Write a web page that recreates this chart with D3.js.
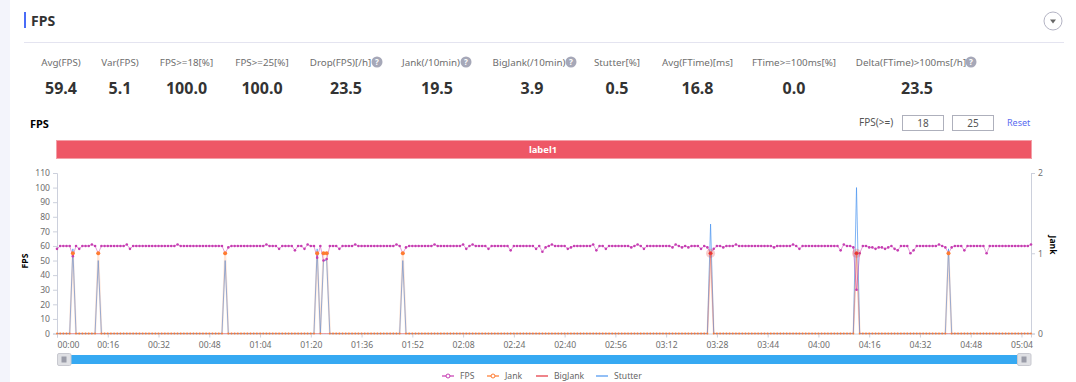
<!DOCTYPE html>
<html>
<head>
<meta charset="utf-8">
<script src="https://cdn.jsdelivr.net/npm/d3@7"></script>
<style>
  html, body { margin: 0; padding: 0; background: #fff; overflow: hidden; }
  svg { display: block; font-family: "Noto Sans", sans-serif; }
  .domain, .tick line { stroke: #ccd0dc; }
  .tick text { fill: #6e6e6e; font-size: 8.6px; font-family: "Noto Sans", sans-serif; }
</style>
</head>
<body>
<div id="chart"></div>
<script>
const kpiLabels = ["Avg(FPS)", "Var(FPS)", "FPS>=18[%]", "FPS>=25[%]", "Drop(FPS)[/h]", "Jank(/10min)", "BigJank(/10min)", "Stutter[%]", "Avg(FTime)[ms]", "FTime>=100ms[%]", "Delta(FTime)>100ms[/h]"];
const kpiValues = ["59.4", "5.1", "100.0", "100.0", "23.5", "19.5", "3.9", "0.5", "16.8", "0.0", "23.5"];
const kpiHasHelp = [false, false, false, false, true, true, true, false, false, false, true];

const tickLabels = ["00:00", "00:16", "00:32", "00:48", "01:04", "01:20", "01:36", "01:52", "02:08", "02:24", "02:40", "02:56", "03:12", "03:28", "03:44", "04:00", "04:16", "04:32", "04:48", "05:04"];
const fpsTicks = [0, 10, 20, 30, 40, 50, 60, 70, 80, 90, 100, 110];
const jankTicks = [0, 1, 2];

// one value per second
const fps = [
  58,60,60,60,60,53,60,58,60,60,
  60,61,60,55,60,60,60,60,60,60,
  60,60,61,58,60,60,60,60,60,60,
  60,60,60,60,60,60,60,60,61,60,
  60,60,60,60,60,60,60,60,60,60,
  60,60,60,55,59,60,60,60,60,60,
  60,60,60,60,60,60,61,60,60,60,
  58,60,60,60,60,57,60,60,58,61,
  60,60,52,60,50,51,60,60,60,58,
  60,60,60,60,61,60,60,60,60,60,
  60,60,60,60,60,60,60,61,60,55,
  59,60,60,60,60,60,60,60,60,61,
  60,60,60,60,60,60,60,60,61,58,
  60,61,60,60,60,60,58,60,60,60,
  60,60,60,57,60,60,60,60,60,60,
  60,58,60,56,59,60,61,60,60,60,
  60,58,59,60,60,60,60,60,60,61,
  57,60,60,58,60,60,60,60,60,60,
  60,59,60,61,60,58,60,60,60,60,
  60,60,60,60,59,61,60,59,60,59,
  60,60,60,58,60,59,55,58,60,60,
  59,60,60,60,61,60,60,60,60,60,
  60,60,60,60,60,60,59,60,60,60,
  60,60,61,60,58,60,60,60,60,60,
  60,60,60,60,60,60,60,57,61,60,
  60,59,30,55,60,60,59,59,58,59,
  59,58,59,60,58,57,60,60,60,55,
  57,60,60,60,60,60,60,60,61,60,
  59,55,59,60,60,60,57,60,60,60,
  60,60,60,55,60,60,60,60,60,60,
  60,60,60,60,60,60,60,61
];

// seconds where the other series leave zero
const jankSeconds = [5, 13, 53, 82, 84, 85, 109, 206, 252, 281];
const jankValues = [1, 1, 1, 1, 1, 1, 1, 1, 1, 1];
const bigJankSeconds = [206, 252];
const bigJankValues = [1, 1];
const stutterSeconds = [5, 13, 53, 82, 84, 85, 109, 206, 252, 281];
const stutterValues = [58, 50, 50, 58, 50, 50, 50, 75, 100, 58];

const legendNames = ["FPS", "Jank", "BigJank", "Stutter"];
const colors = { FPS: "#c63db2", Jank: "#ff7b30", BigJank: "#e5323c", Stutter: "#4a94f0" };

const width = 1076, height = 382;
const seconds = fps.map((d, i) => i);

function expand(keys, vals) {
  const m = new Map(keys.map((k, i) => [k, vals[i]]));
  return seconds.map(s => m.get(s) || 0);
}
const jank = expand(jankSeconds, jankValues);
const bigJank = expand(bigJankSeconds, bigJankValues);
const stutter = expand(stutterSeconds, stutterValues);

const svg = d3.select("#chart").append("svg")
  .attr("width", width)
  .attr("height", height);

// page background and card
svg.append("rect").attr("width", width).attr("height", height).attr("fill", "#fff");
svg.append("rect").attr("width", 10).attr("height", height).attr("fill", "#f3f4fb");

// title row
svg.append("rect").attr("x", 24).attr("y", 12).attr("width", 2).attr("height", 16).attr("fill", "#4a6cf7");
svg.append("text").attr("x", 31).attr("y", 25.5).attr("font-size", 14).attr("font-weight", 700).attr("fill", "#333").text("FPS");
svg.append("line").attr("x1", 24).attr("x2", 1064).attr("y1", 42.5).attr("y2", 42.5).attr("stroke", "#e4e4f0");
svg.append("circle").attr("cx", 1053).attr("cy", 21).attr("r", 9).attr("fill", "#fff").attr("stroke", "#b4b4c4");
svg.append("path").attr("d", "M1050,19.5h6l-3,4z").attr("fill", "#666");

// KPI row
const kpiCenters = [61, 120, 186.5, 262, 340.5, 431, 529, 617, 697.5, 794, 911];
const kpiValueCenters = [61, 120, 186.5, 262, 346, 437, 532, 617, 697.5, 794, 917];
const kpi = svg.append("g");
kpiLabels.forEach((label, i) => {
  kpi.append("text").attr("x", kpiCenters[i]).attr("y", 65.5)
    .attr("text-anchor", "middle").attr("font-size", 9.8).attr("fill", "#6e6e6e").text(label);
  kpi.append("text").attr("x", kpiValueCenters[i]).attr("y", 94)
    .attr("text-anchor", "middle").attr("font-size", 16).attr("font-weight", 700).attr("fill", "#333").text(kpiValues[i]);
});
const helpX = [377, 466, 571, 971];
kpiHasHelp.filter(d => d).forEach((d, i) => {
  kpi.append("circle").attr("cx", helpX[i]).attr("cy", 62).attr("r", 5.5).attr("fill", "#a6a8b8");
  kpi.append("text").attr("x", helpX[i]).attr("y", 65).attr("text-anchor", "middle")
    .attr("font-size", 8).attr("font-weight", 700).attr("fill", "#fff").text("?");
});

// chart title and threshold inputs
svg.append("text").attr("x", 30).attr("y", 128).attr("font-size", 11).attr("font-weight", 700).attr("fill", "#000").text("FPS");
svg.append("text").attr("x", 859).attr("y", 126).attr("font-size", 10).attr("fill", "#555").text("FPS(>=)");
[[902, "18"], [952, "25"]].forEach(([x, v]) => {
  svg.append("rect").attr("x", x + 0.5).attr("y", 115.5).attr("width", 41).attr("height", 15).attr("fill", "#fff").attr("stroke", "#aeb0bc");
  svg.append("text").attr("x", x + 21).attr("y", 126.5).attr("text-anchor", "middle").attr("font-size", 10).attr("fill", "#555").text(v);
});
svg.append("text").attr("x", 1007).attr("y", 126).attr("font-size", 9).attr("fill", "#5a6cf0").text("Reset");

// label band
svg.append("rect").attr("x", 56.5).attr("y", 140.5).attr("width", 975).attr("height", 18).attr("fill", "#ee5766").attr("stroke", "#f3a0a8");
svg.append("text").attr("x", 543).attr("y", 153).attr("text-anchor", "middle").attr("font-size", 9.4).attr("font-weight", 700).attr("fill", "#fff").text("label1");

// scales
const plotLeft = 57, plotRight = 1031, plotTop = 173, plotBottom = 333.5;
const x = d3.scalePoint().domain(seconds).range([plotLeft, plotRight]);
const yFps = d3.scaleLinear().domain([0, 110]).range([plotBottom, plotTop]);
const yJank = d3.scaleLinear().domain([0, 2]).range([plotBottom, plotTop]);

// axes
const tickSeconds = tickLabels.map((d, i) => i * 16);
const xAxis = svg.append("g").attr("transform", `translate(0,${plotBottom})`)
  .call(d3.axisBottom(x).tickValues(tickSeconds).tickFormat((d, i) => tickLabels[i]).tickSize(4).tickPadding(4));
// first label sits inside the plot, starting at the axis origin
xAxis.select(".tick:first-of-type text").attr("text-anchor", "start");
svg.append("g").attr("transform", `translate(${plotLeft},0)`)
  .call(d3.axisLeft(yFps).tickValues(fpsTicks).tickSize(4).tickPadding(3));
svg.append("g").attr("transform", `translate(${plotRight},0)`)
  .call(d3.axisRight(yJank).tickValues(jankTicks).tickFormat(d3.format("d")).tickSize(4).tickPadding(3));

svg.append("text").attr("transform", "translate(28,261) rotate(-90)").attr("text-anchor", "middle")
  .attr("font-size", 8.6).attr("font-weight", 700).attr("fill", "#000").text("FPS");
svg.append("text").attr("transform", "translate(1050,245) rotate(90)").attr("text-anchor", "middle")
  .attr("font-size", 8.6).attr("font-weight", 700).attr("fill", "#000").text("Jank");

const line = (scale) => d3.line().x((d, i) => x(i)).y(d => scale(d));

// series lines, spikes are pale so blue and orange mix
svg.append("path").datum(bigJank).attr("d", line(yJank)).attr("fill", "none")
  .attr("stroke", colors.BigJank).attr("stroke-width", 1).attr("opacity", 0.4);
svg.append("path").datum(stutter).attr("d", line(yFps)).attr("fill", "none")
  .attr("stroke", colors.Stutter).attr("stroke-width", 1).attr("opacity", 0.7);
svg.append("path").datum(jank).attr("d", line(yJank)).attr("fill", "none")
  .attr("stroke", colors.Jank).attr("stroke-width", 2).attr("opacity", 0.2);

svg.append("path").datum(fps).attr("d", line(yFps)).attr("fill", "none")
  .attr("stroke", colors.FPS).attr("stroke-width", 1).attr("opacity", 0.5);
svg.append("g").selectAll("circle").data(fps).join("circle")
  .attr("cx", (d, i) => x(i)).attr("cy", d => yFps(d)).attr("r", 1.3)
  .attr("fill", colors.FPS);

// jank markers go over the fps markers
svg.append("g").selectAll("circle").data(jank).join("circle")
  .attr("cx", (d, i) => x(i)).attr("cy", d => yJank(d)).attr("r", d => d > 0 ? 2 : 0.9)
  .attr("fill", colors.Jank);
svg.append("g").selectAll("circle").data(bigJankSeconds).join("circle")
  .attr("cx", d => x(d)).attr("cy", (d, i) => yJank(bigJankValues[i])).attr("r", 4.5)
  .attr("fill", colors.BigJank).attr("opacity", 0.25);
svg.append("g").selectAll("circle").data(bigJankSeconds).join("circle")
  .attr("cx", d => x(d)).attr("cy", (d, i) => yJank(bigJankValues[i])).attr("r", 1.6)
  .attr("fill", colors.BigJank);

// zoom slider
svg.append("rect").attr("x", plotLeft).attr("y", 355).attr("width", plotRight - plotLeft).attr("height", 9).attr("fill", "#36a9f2");
[plotLeft, plotRight - 14].forEach(hx => {
  svg.append("rect").attr("x", hx + 0.5).attr("y", 353.5).attr("width", 13.5).attr("height", 12).attr("rx", 1.5)
    .attr("fill", "#dfe0e4").attr("stroke", "#c8c9d0");
  svg.append("rect").attr("x", hx + 4.5).attr("y", 356.5).attr("width", 5).attr("height", 6).attr("fill", "#9a9ca8");
});

// legend
const legendLineX = [442, 487, 536, 596];
legendNames.forEach((name, i) => {
  const lx = legendLineX[i];
  svg.append("line").attr("x1", lx).attr("x2", lx + 12).attr("y1", 376).attr("y2", 376)
    .attr("stroke", colors[name]).attr("stroke-width", 1.2);
  if (i < 2) {
    svg.append("circle").attr("cx", lx + 6).attr("cy", 376).attr("r", 2)
      .attr("fill", "#fff").attr("stroke", colors[name]);
  }
  svg.append("text").attr("x", lx + 18).attr("y", 378.5).attr("font-size", 8.6).attr("fill", "#666").text(name);
});
</script>
</body>
</html>
